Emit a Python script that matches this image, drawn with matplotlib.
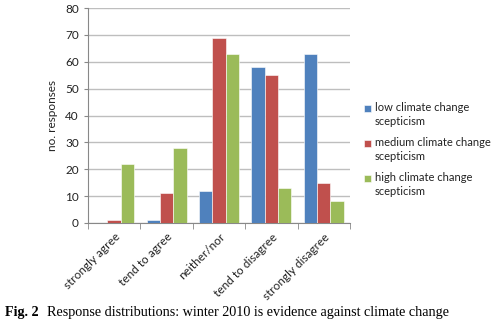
import matplotlib.pyplot as plt
import numpy as np
from matplotlib.patches import Rectangle
from matplotlib.legend_handler import HandlerPatch

categories = ['strongly agree', 'tend to agree', 'neither/nor',
              'tend to disagree', 'strongly disagree']
low = [0, 1, 12, 58, 63]
medium = [1, 11, 69, 55, 15]
high = [22, 28, 63, 13, 8]
series_names = ['low climate change\nscepticism',
                'medium climate change\nscepticism',
                'high climate change\nscepticism']
colors = ['#4F81BD', '#C0504D', '#9BBB59']

plt.rcParams['font.family'] = ['Lato', 'DejaVu Sans']
fs = 8.5

fig = plt.figure(figsize=(4.97, 3.25), dpi=100)
ax = fig.add_axes([0.177, 0.314, 0.527, 0.661])

x = np.arange(len(categories))
w = 0.255
bars = []
for i, (vals, name, c) in enumerate(zip([low, medium, high], series_names, colors)):
    b = ax.bar(x + (i - 1) * w, vals, width=w, color=c, label=name,
               edgecolor='white', linewidth=0.4, zorder=3)
    bars.append(b)

ax.set_xlim(-0.5, len(categories) - 0.5)
ax.set_ylim(0, 80)
ax.set_yticks(range(0, 81, 10))
ax.grid(axis='y', color='#BEBEBE', linewidth=1, zorder=0)
ax.set_xticks(x)
ax.set_xticklabels(categories, rotation=45, ha='right', rotation_mode='anchor',
                   fontsize=fs, color='#222222')
ax.set_xticks(np.arange(-0.5, len(categories)), minor=True)
ax.tick_params(axis='x', which='major', length=0, pad=6)
ax.tick_params(axis='x', which='minor', length=4, color='#888888')
ax.tick_params(axis='y', labelsize=fs, length=3, color='#888888', labelcolor='#222222')
for s in ['top', 'right']:
    ax.spines[s].set_visible(False)
for s in ['left', 'bottom']:
    ax.spines[s].set_color('#888888')
ax.set_ylabel('no. responses', fontsize=fs, color='#222222', labelpad=5)


# put the legend square next to the first line of each two-line label
def top_square(legend, orig_handle, xdescent, ydescent, width, height, fontsize):
    return Rectangle((-xdescent, -ydescent + 0.6 * fontsize), width, height)


handles = [b.patches[0] for b in bars]
leg = ax.legend(handles, series_names, loc='upper left', bbox_to_anchor=(1.03, 0.595),
                frameon=False, fontsize=8, handlelength=0.6, handleheight=0.6,
                handletextpad=0.35, labelspacing=0.9, labelcolor='#222222',
                borderaxespad=0.2,
                handler_map={Rectangle: HandlerPatch(patch_func=top_square)})
for t in leg.get_texts():
    t.set_linespacing(1.35)

fig.text(0.01, 0.027, 'Fig. 2', fontsize=10.2, fontweight='bold', family='Liberation Serif')
fig.text(0.094, 0.027, 'Response distributions: winter 2010 is evidence against climate change',
         fontsize=10.2, family='Liberation Serif')

fig.savefig('out.png', dpi=100)
